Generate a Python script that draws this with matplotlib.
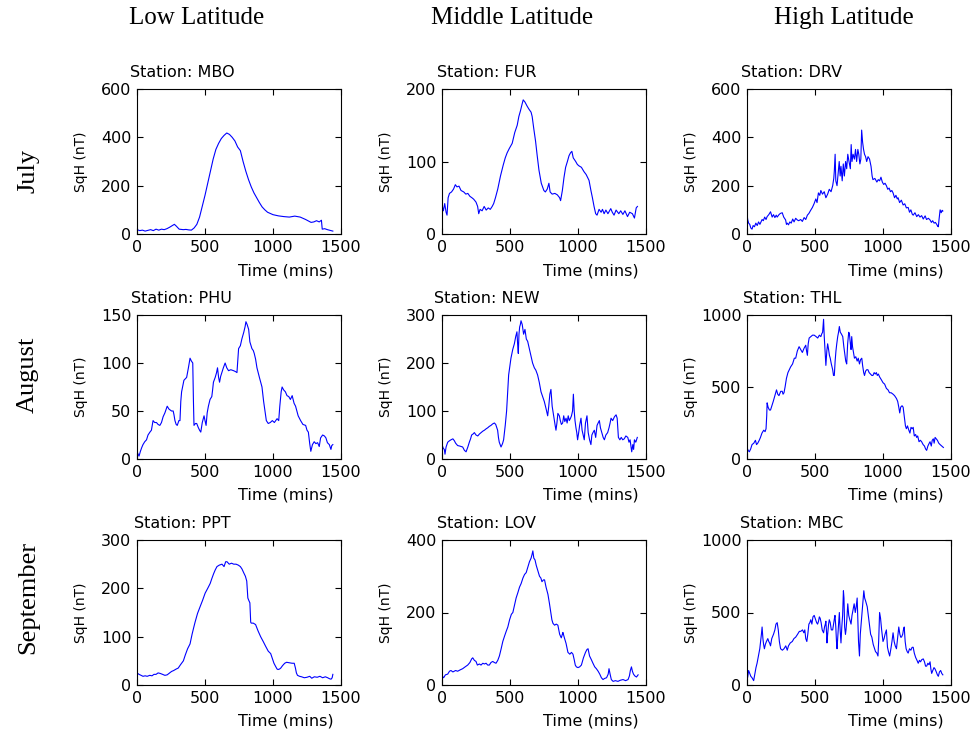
"""
SqH daily variation at low / middle / high latitude stations, Jul-Sep
"""
import matplotlib
matplotlib.use('Agg')
import matplotlib.pyplot as plt

# (time in minutes, SqH in nT)
mbo = [(0, 18), (20, 14), (40, 16), (60, 12), (80, 15), (100, 18), (120, 14), (140, 20), (160, 16), (180, 20),
       (200, 18), (220, 22), (240, 28), (260, 35), (275, 40), (290, 32), (310, 20), (340, 18), (360, 19), (380, 17),
       (400, 16), (420, 25), (440, 40), (460, 70), (480, 115), (500, 160), (520, 210), (540, 260), (560, 310),
       (580, 350), (600, 375), (620, 395), (640, 408), (660, 418), (680, 412), (700, 400), (720, 385), (740, 360),
       (760, 345), (780, 300), (800, 260), (820, 225), (840, 195), (860, 170), (880, 150), (900, 130), (920, 112),
       (940, 100), (960, 90), (980, 85), (1000, 80), (1040, 75), (1080, 72), (1120, 70), (1160, 74), (1200, 70),
       (1240, 60), (1280, 48), (1300, 50), (1320, 55), (1340, 50), (1356, 57), (1362, 20), (1380, 22), (1400, 18),
       (1420, 15), (1440, 12)]

fur = [(0, 40), (10, 32), (20, 42), (30, 30), (37, 26), (45, 50), (55, 56), (70, 58), (85, 62), (98, 68), (110, 65),
       (125, 66), (140, 60), (160, 58), (175, 55), (190, 56), (205, 52), (220, 50), (233, 48), (250, 44), (262, 38),
       (270, 28), (280, 34), (295, 32), (310, 38), (325, 33), (340, 36), (355, 34), (369, 38), (380, 42), (393, 50),
       (410, 62), (430, 80), (450, 95), (465, 105), (479, 112), (495, 118), (516, 125), (535, 140), (553, 150),
       (565, 162), (577, 170), (590, 180), (597, 185), (610, 182), (627, 176), (640, 172), (655, 168), (663, 162),
       (675, 145), (688, 128), (700, 108), (713, 88), (730, 70), (749, 60), (760, 58), (774, 62), (786, 70), (795, 58),
       (810, 55), (830, 56), (848, 54), (865, 50), (872, 46), (885, 60), (897, 78), (909, 92), (922, 100), (934, 108),
       (945, 112), (955, 114), (965, 105), (983, 100), (995, 96), (1007, 94), (1025, 92), (1044, 86), (1060, 82),
       (1081, 74), (1095, 60), (1106, 50), (1118, 38), (1130, 28), (1140, 26), (1155, 34), (1170, 30), (1180, 34),
       (1192, 28), (1205, 33), (1220, 28), (1241, 35), (1252, 30), (1265, 26), (1280, 33), (1300, 28), (1314, 32),
       (1330, 27), (1345, 32), (1364, 24), (1380, 30), (1400, 28), (1415, 22), (1428, 36), (1437, 38)]

drv = [(0, 85), (5, 60), (12, 45), (20, 40), (28, 25), (37, 20), (45, 35), (55, 30), (65, 45), (75, 35), (85, 50),
       (95, 40), (111, 60), (120, 55), (130, 70), (140, 60), (148, 72), (160, 80), (173, 92), (185, 70), (195, 80),
       (205, 68), (215, 78), (222, 70), (235, 80), (245, 85), (259, 88), (270, 70), (284, 58), (290, 40), (296, 45),
       (305, 38), (315, 50), (325, 45), (336, 62), (346, 50), (358, 65), (370, 58), (380, 55), (395, 60), (407, 52),
       (420, 68), (432, 60), (444, 78), (455, 85), (468, 98), (481, 110), (493, 125), (506, 145), (515, 130),
       (525, 170), (535, 160), (543, 180), (555, 165), (568, 175), (580, 150), (593, 165), (605, 185), (618, 175),
       (630, 200), (638, 230), (642, 260), (648, 330), (653, 220), (662, 200), (670, 250), (678, 300), (685, 240),
       (691, 280), (700, 220), (708, 290), (716, 240), (725, 300), (733, 270), (741, 330), (750, 300), (760, 270),
       (766, 370), (772, 300), (780, 330), (790, 310), (798, 350), (806, 300), (815, 350), (822, 330), (830, 290),
       (837, 310), (843, 430), (850, 380), (857, 350), (864, 330), (872, 320), (880, 300), (890, 320), (901, 310),
       (912, 280), (920, 240), (926, 225), (940, 230), (955, 215), (965, 225), (975, 220), (985, 235), (995, 215),
       (1005, 205), (1015, 210), (1025, 200), (1035, 185), (1045, 190), (1055, 175), (1065, 180), (1074, 170),
       (1085, 150), (1095, 160), (1105, 145), (1111, 150), (1122, 130), (1135, 140), (1148, 120), (1160, 125),
       (1172, 108), (1185, 110), (1195, 90), (1205, 100), (1215, 82), (1222, 78), (1235, 88), (1248, 72), (1260, 80),
       (1272, 70), (1284, 76), (1296, 62), (1310, 75), (1320, 60), (1334, 65), (1346, 58), (1356, 48), (1365, 55),
       (1376, 45), (1385, 48), (1395, 40), (1402, 32), (1407, 30), (1412, 60), (1420, 100), (1428, 88), (1435, 98),
       (1440, 95)]

phu = [(0, 8), (8, 5), (15, 3), (25, 8), (35, 12), (44, 15), (57, 18), (70, 20), (81, 25), (95, 28), (106, 30),
       (112, 35), (118, 40), (130, 38), (143, 38), (155, 36), (168, 35), (180, 38), (192, 44), (205, 48), (222, 55),
       (235, 52), (254, 50), (266, 50), (272, 46), (279, 40), (288, 36), (296, 35), (308, 40), (316, 40), (322, 60),
       (328, 70), (345, 82), (365, 85), (378, 95), (390, 105), (400, 102), (410, 100), (415, 60), (419, 35),
       (430, 37), (439, 37), (450, 33), (460, 30), (469, 28), (480, 38), (493, 45), (500, 40), (508, 35), (516, 48),
       (525, 55), (537, 62), (550, 65), (556, 72), (562, 80), (575, 85), (585, 90), (592, 95), (600, 85), (607, 80),
       (615, 86), (624, 90), (635, 95), (648, 100), (660, 95), (673, 92), (690, 93), (710, 92), (725, 91), (735, 90),
       (747, 115), (760, 118), (771, 125), (785, 132), (795, 138), (801, 143), (810, 140), (821, 135), (830, 122),
       (845, 115), (855, 113), (862, 110), (872, 104), (882, 95), (900, 85), (919, 75), (931, 60), (941, 50),
       (951, 40), (965, 37), (980, 38), (995, 40), (1010, 38), (1030, 42), (1042, 40), (1050, 55), (1060, 70),
       (1067, 75), (1078, 72), (1091, 70), (1103, 66), (1116, 65), (1128, 62), (1141, 66), (1155, 58), (1166, 55),
       (1185, 45), (1203, 40), (1220, 36), (1240, 35), (1250, 30), (1260, 28), (1270, 16), (1278, 8), (1290, 15),
       (1303, 18), (1315, 16), (1328, 17), (1340, 13), (1350, 22), (1365, 25), (1378, 24), (1389, 22), (1400, 17),
       (1414, 15), (1426, 10), (1432, 14), (1440, 15)]

new = [(0, 30), (10, 22), (17, 20), (22, 10), (30, 25), (42, 35), (55, 38), (66, 40), (80, 42), (91, 38), (100, 33),
       (115, 28), (130, 27), (152, 25), (165, 18), (177, 15), (190, 25), (201, 35), (210, 42), (218, 50), (228, 52),
       (238, 55), (250, 50), (263, 48), (275, 52), (287, 55), (300, 58), (312, 60), (325, 63), (336, 65), (348, 68),
       (360, 70), (372, 73), (385, 75), (395, 72), (409, 60), (415, 45), (421, 35), (434, 25), (445, 32), (453, 40),
       (465, 70), (475, 100), (483, 140), (490, 175), (500, 195), (507, 210), (520, 228), (532, 240), (542, 255),
       (551, 265), (556, 240), (561, 220), (566, 260), (571, 275), (576, 280), (581, 288), (590, 280), (600, 260),
       (610, 270), (620, 250), (630, 245), (642, 230), (654, 215), (666, 200), (679, 190), (690, 185), (703, 175),
       (715, 160), (728, 140), (740, 130), (752, 120), (765, 105), (777, 90), (785, 110), (793, 135), (801, 145),
       (810, 110), (818, 95), (826, 80), (832, 70), (838, 60), (845, 75), (852, 95), (863, 90), (870, 80),
       (878, 72), (887, 75), (895, 90), (903, 78), (912, 85), (920, 75), (928, 90), (936, 80), (945, 85), (952, 90),
       (960, 100), (966, 135), (972, 100), (978, 80), (985, 65), (991, 55), (997, 40), (1005, 55), (1012, 70),
       (1022, 85), (1030, 60), (1038, 50), (1046, 40), (1055, 75), (1062, 85), (1066, 90), (1075, 55), (1085, 40),
       (1095, 30), (1102, 50), (1110, 55), (1120, 60), (1130, 45), (1140, 70), (1148, 75), (1157, 80), (1165, 65),
       (1175, 55), (1185, 45), (1194, 40), (1205, 50), (1218, 55), (1228, 65), (1236, 75), (1243, 85), (1255, 80),
       (1268, 88), (1280, 92), (1288, 85), (1297, 45), (1308, 40), (1318, 45), (1329, 40), (1340, 42), (1352, 48),
       (1366, 45), (1375, 35), (1383, 40), (1390, 25), (1395, 15), (1403, 30), (1409, 20), (1415, 40), (1425, 35),
       (1436, 45)]

thl = [(0, 80), (8, 60), (17, 50), (27, 70), (37, 100), (50, 110), (62, 130), (70, 100), (79, 110), (90, 130),
       (99, 150), (110, 180), (123, 200), (133, 190), (140, 210), (145, 300), (148, 390), (155, 360), (165, 340),
       (173, 340), (183, 370), (193, 400), (205, 440), (217, 480), (226, 450), (235, 440), (248, 470), (259, 470),
       (265, 450), (272, 460), (280, 500), (290, 560), (301, 600), (311, 620), (321, 640), (335, 660), (348, 700),
       (358, 700), (370, 750), (383, 780), (395, 760), (407, 740), (420, 770), (432, 790), (438, 750), (444, 720),
       (450, 800), (457, 840), (470, 850), (482, 860), (494, 860), (508, 850), (520, 840), (532, 860), (543, 850),
       (550, 870), (556, 880), (563, 970), (568, 850), (574, 750), (580, 650), (587, 750), (593, 800), (600, 760),
       (606, 720), (612, 700), (620, 660), (630, 620), (636, 580), (642, 580), (648, 680), (654, 750), (660, 800),
       (667, 850), (673, 880), (679, 920), (686, 880), (693, 870), (704, 850), (712, 780), (720, 720), (726, 680),
       (733, 660), (740, 800), (748, 880), (753, 870), (760, 800), (765, 760), (770, 850), (776, 780), (783, 740),
       (790, 700), (800, 710), (810, 680), (818, 700), (827, 660), (835, 690), (844, 700), (850, 650), (858, 600),
       (864, 580), (872, 610), (880, 620), (889, 620), (898, 600), (908, 590), (918, 580), (926, 580), (935, 600),
       (943, 590), (951, 600), (958, 580), (966, 590), (975, 570), (988, 550), (1000, 530), (1012, 520), (1025, 490),
       (1037, 480), (1048, 460), (1060, 460), (1074, 450), (1085, 440), (1099, 420), (1108, 400), (1116, 360),
       (1123, 320), (1130, 360), (1140, 370), (1148, 360), (1156, 300), (1161, 260), (1165, 230), (1172, 210),
       (1180, 230), (1190, 200), (1198, 180), (1206, 220), (1214, 210), (1222, 220), (1230, 160), (1240, 170),
       (1247, 150), (1255, 160), (1265, 120), (1275, 130), (1284, 120), (1295, 100), (1305, 90), (1313, 70),
       (1321, 60), (1330, 90), (1340, 110), (1346, 120), (1355, 90), (1362, 130), (1370, 140), (1376, 110),
       (1383, 150), (1392, 140), (1400, 130), (1410, 110), (1420, 100), (1432, 90), (1444, 80)]

ppt = [(0, 25), (15, 22), (30, 20), (44, 18), (60, 19), (75, 18), (94, 20), (110, 19), (125, 22), (140, 22),
       (155, 25), (170, 24), (188, 22), (205, 20), (222, 21), (240, 25), (254, 28), (270, 30), (288, 33), (303, 35),
       (320, 42), (341, 50), (355, 62), (372, 75), (390, 85), (405, 105), (418, 120), (427, 130), (445, 148),
       (464, 162), (482, 175), (501, 190), (520, 200), (538, 210), (550, 220), (563, 230), (575, 238), (588, 245),
       (605, 248), (625, 250), (640, 245), (652, 255), (662, 255), (678, 250), (695, 252), (711, 250), (728, 250),
       (745, 248), (760, 245), (772, 240), (785, 232), (797, 225), (807, 215), (815, 180), (822, 175), (830, 170),
       (836, 130), (840, 128), (855, 128), (872, 125), (890, 112), (909, 100), (928, 90), (946, 80), (965, 70),
       (983, 65), (995, 55), (1007, 45), (1020, 38), (1030, 33), (1037, 32), (1048, 33), (1057, 35), (1070, 40),
       (1086, 45), (1100, 47), (1120, 46), (1140, 45), (1156, 45), (1165, 35), (1172, 25), (1180, 20), (1195, 18),
       (1210, 17), (1230, 15), (1250, 16), (1270, 18), (1285, 14), (1304, 17), (1325, 16), (1345, 18), (1365, 15),
       (1385, 17), (1402, 15), (1415, 13), (1427, 12), (1435, 15), (1440, 22)]

lov = [(0, 25), (12, 20), (25, 28), (42, 30), (55, 38), (66, 40), (80, 36), (100, 40), (115, 38), (135, 42),
       (152, 45), (170, 50), (189, 55), (205, 62), (218, 72), (226, 75), (238, 68), (250, 65), (260, 55), (275, 58),
       (287, 55), (300, 60), (312, 58), (324, 60), (336, 55), (348, 55), (360, 62), (373, 65), (385, 62), (397, 60),
       (410, 68), (422, 80), (435, 100), (447, 120), (460, 135), (472, 148), (484, 160), (497, 180), (510, 195),
       (521, 200), (533, 220), (545, 240), (558, 255), (570, 270), (582, 280), (595, 295), (607, 305), (619, 310),
       (631, 325), (643, 340), (655, 350), (662, 360), (668, 370), (675, 350), (684, 345), (693, 330), (705, 315),
       (717, 300), (727, 295), (735, 285), (746, 290), (754, 290), (765, 270), (779, 250), (790, 225), (800, 200),
       (808, 180), (816, 170), (828, 165), (840, 168), (852, 165), (865, 140), (877, 130), (885, 140), (889, 145),
       (900, 130), (912, 115), (926, 90), (940, 85), (952, 90), (963, 85), (972, 70), (980, 55), (988, 50),
       (1000, 48), (1012, 50), (1025, 55), (1040, 75), (1055, 90), (1066, 98), (1074, 100), (1085, 80), (1098, 70),
       (1110, 60), (1123, 50), (1135, 45), (1148, 38), (1160, 30), (1172, 20), (1184, 15), (1195, 18), (1210, 20),
       (1222, 30), (1228, 45), (1236, 30), (1245, 15), (1258, 10), (1275, 12), (1294, 10), (1310, 13), (1331, 15),
       (1350, 12), (1368, 15), (1378, 25), (1385, 40), (1393, 50), (1400, 38), (1408, 30), (1418, 25), (1430, 22),
       (1442, 28)]

mbc = [(0, 30), (6, 60), (12, 100), (20, 80), (28, 60), (37, 50), (43, 40), (49, 30), (58, 80), (66, 120), (74, 150),
       (84, 200), (94, 250), (100, 300), (106, 350), (111, 400), (117, 320), (122, 280), (128, 250), (135, 280),
       (143, 300), (153, 320), (160, 300), (166, 290), (173, 270), (182, 320), (195, 350), (205, 380), (213, 420),
       (222, 430), (230, 380), (238, 300), (247, 250), (260, 240), (272, 250), (285, 270), (296, 240), (305, 270),
       (318, 290), (333, 300), (345, 320), (358, 330), (372, 350), (385, 370), (395, 370), (408, 380), (418, 360),
       (425, 380), (432, 320), (440, 300), (447, 350), (455, 420), (462, 430), (469, 450), (477, 420), (485, 470),
       (494, 480), (505, 450), (512, 430), (519, 420), (526, 440), (532, 470), (538, 460), (545, 430), (553, 380),
       (563, 360), (570, 400), (576, 420), (580, 440), (585, 360), (588, 290), (593, 350), (600, 420), (605, 450),
       (612, 430), (620, 380), (630, 380), (638, 430), (643, 460), (647, 480), (653, 400), (658, 300), (662, 250),
       (667, 320), (672, 400), (679, 500), (685, 380), (691, 290), (697, 400), (703, 480), (709, 650), (713, 600),
       (718, 400), (724, 350), (728, 380), (734, 450), (741, 560), (748, 480), (756, 450), (765, 420), (772, 480),
       (780, 520), (788, 560), (796, 500), (803, 540), (810, 600), (815, 450), (820, 300), (827, 200), (833, 350),
       (840, 430), (848, 520), (855, 600), (859, 650), (865, 600), (872, 580), (884, 540), (892, 480), (900, 420),
       (909, 350), (918, 330), (928, 280), (938, 250), (945, 230), (955, 220), (963, 200), (968, 300), (975, 500),
       (982, 460), (990, 380), (1000, 300), (1008, 320), (1015, 350), (1025, 380), (1033, 260), (1040, 230),
       (1049, 200), (1058, 250), (1066, 300), (1074, 360), (1082, 300), (1090, 270), (1099, 250), (1107, 320),
       (1116, 400), (1124, 350), (1130, 330), (1136, 330), (1145, 350), (1150, 380), (1156, 400), (1163, 300),
       (1170, 250), (1178, 230), (1185, 220), (1195, 250), (1205, 240), (1214, 260), (1222, 260), (1230, 220),
       (1240, 190), (1250, 170), (1259, 150), (1268, 170), (1276, 160), (1285, 175), (1296, 180), (1305, 160),
       (1313, 130), (1321, 130), (1330, 150), (1338, 140), (1346, 160), (1352, 110), (1358, 80), (1366, 100),
       (1375, 120), (1383, 110), (1392, 90), (1400, 70), (1407, 60), (1415, 90), (1424, 100), (1432, 80),
       (1440, 70)]

col_titles = ['Low Latitude', 'Middle Latitude', 'High Latitude']
row_titles = ['July', 'August', 'September']
stations = [['MBO', 'FUR', 'DRV'],
            ['PHU', 'NEW', 'THL'],
            ['PPT', 'LOV', 'MBC']]
series = [[mbo, fur, drv],
          [phu, new, thl],
          [ppt, lov, mbc]]
y_max = [[600, 200, 600],
         [150, 300, 1000],
         [300, 400, 1000]]
y_ticks = [[[0, 200, 400, 600], [0, 100, 200], [0, 200, 400, 600]],
           [[0, 50, 100, 150], [0, 100, 200, 300], [0, 500, 1000]],
           [[0, 100, 200, 300], [0, 200, 400], [0, 500, 1000]]]
x_ticks = [0, 500, 1000, 1500]

W, H = 974, 736
fig = plt.figure(figsize=(W / 100, H / 100), dpi=100)

# axes boxes in pixels: left edges and (top, bottom) per row
lefts = [137, 442, 747]
rows_px = [(89, 234), (315, 459), (540, 685)]
ax_w = 204

for i in range(3):
    top, bot = rows_px[i]
    for j in range(3):
        ax = fig.add_axes([lefts[j] / W, 1 - bot / H, ax_w / W, (bot - top) / H])
        t = [p[0] for p in series[i][j]]
        v = [p[1] for p in series[i][j]]
        ax.plot(t, v, color='#0000ff', linewidth=0.8)
        ax.set_xlim(0, 1500)
        ax.set_ylim(0, y_max[i][j])
        ax.set_xticks(x_ticks)
        ax.set_yticks(y_ticks[i][j])
        ax.tick_params(direction='in', top=True, right=True, length=4, width=0.8,
                       labelsize=11.5, pad=4)
        for s in ax.spines.values():
            s.set_linewidth(0.8)
        ax.set_xlabel('Time (mins)', fontsize=11.5)
        ax.xaxis.set_label_coords(0.73, -0.2)
        ax.set_ylabel('SqH (nT)', fontsize=10)
        ax.yaxis.set_label_coords(-0.24, 0.5)
        ax.text(0.22, 1.08, f'Station: {stations[i][j]}', transform=ax.transAxes,
                ha='center', va='baseline', fontsize=11.5)

# column and row headings
col_x = [197, 512, 844]
for j, name in enumerate(col_titles):
    fig.text(col_x[j] / W, 1 - 18 / H, name, ha='center', va='center',
             family='Liberation Serif', fontsize=18)
row_y = [171, 375, 597]
for i, name in enumerate(row_titles):
    fig.text(28 / W, 1 - row_y[i] / H, name, ha='center', va='center', rotation=90,
             family='Liberation Serif', fontsize=19)

fig.savefig('out.png', dpi=100)
